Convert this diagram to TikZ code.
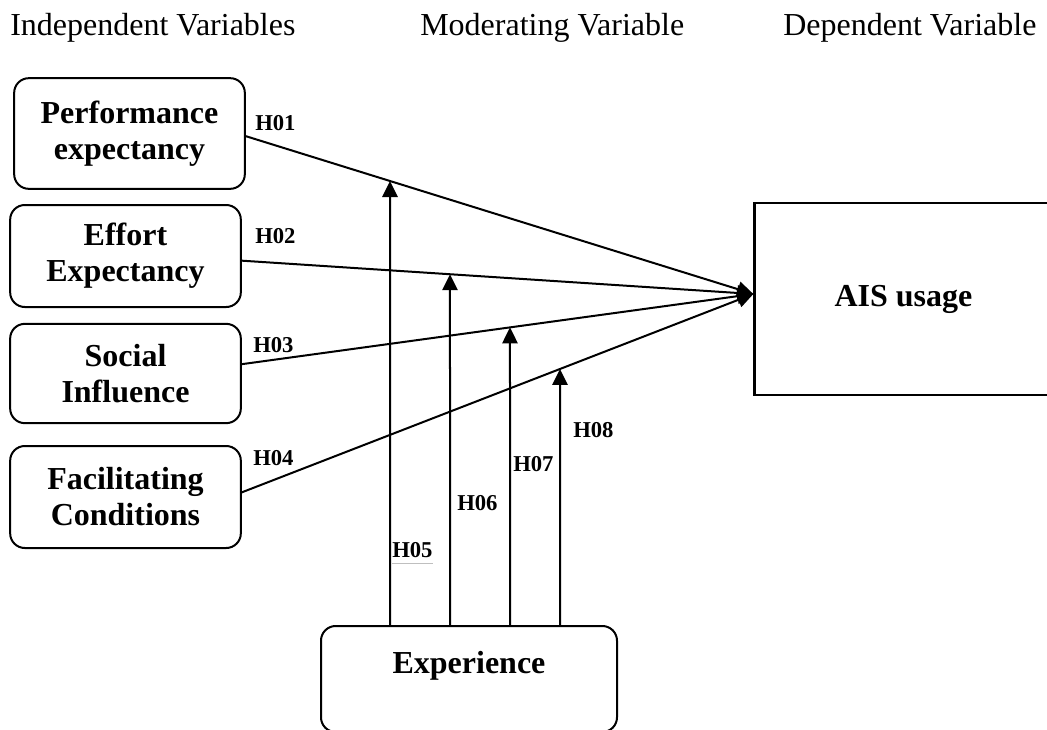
\documentclass[tikz,border=0pt]{standalone}
\usepackage{fontspec}
\setmainfont{Liberation Serif}
\usetikzlibrary{arrows.meta, positioning, calc, intersections}

\begin{document}
\begin{tikzpicture}[
    x=0.75pt, y=-0.75pt,
    varbox/.style={draw, line width=1.5pt, rounded corners=11pt,
                   minimum width=173pt, align=center,
                   font=\fontsize{24}{27}\selectfont\bfseries},
    depbox/.style={draw, line width=2.2pt, minimum width=223pt,
                   minimum height=144pt, font=\fontsize{24}{27}\selectfont\bfseries},
    head/.style={font=\fontsize{24}{28}\selectfont, anchor=base west, inner sep=0pt},
    hyp/.style={font=\fontsize{17}{20}\selectfont\bfseries, anchor=base west, inner sep=0pt},
    arr/.style={-{Triangle[length=12pt, width=11.5pt]}, line width=1.5pt},
  ]
  \useasboundingbox (0,0) rectangle (1047,729);

  % ── HEADINGS ──
  \node[head] (hind) at (10,35) {Independent Variables};
  \node[head] (hmod) at (420,35) {Moderating Variable};
  \node[head] (hdep) at (783,35) {Dependent Variable};

  % ── INDEPENDENT ──
  \node[varbox, minimum height=83pt] (perf) at (129.5,133.5) {Performance\\expectancy};
  \node[varbox, minimum height=76.5pt] (effort) at (125.5,256) {Effort\\Expectancy};
  \node[varbox, minimum height=74.5pt] (social) at (125.5,373.5) {Social\\Influence};
  \node[varbox, minimum height=76.5pt] (facil) at (125.5,497) {Facilitating\\Conditions};

  % ── DEPENDENT ──
  \node[depbox] (ais) at (903.5,299) {AIS usage};
  \coordinate (aisin) at ([yshift=3.75pt]ais.west);

  % ── MODERATOR ──
  \node[varbox, minimum width=222pt, minimum height=79.5pt,
        text height=16pt, text depth=24pt] (exp) at (469,679) {Experience};

  % ── direct paths ──
  \draw[arr, name path=l1] ([yshift=-2pt]perf.east) -- (aisin);
  \draw[arr, name path=l2] ([yshift=-3.5pt]effort.east) -- (aisin);
  \draw[arr, name path=l3] ([yshift=7pt]social.east) -- (aisin);
  \draw[arr, name path=l4] ([yshift=3.5pt]facil.east) -- (aisin);

  \node[hyp] (h01) at (255,130) {H01};
  \node[hyp] (h02) at (255,243) {H02};
  \node[hyp] (h03) at (253,352) {H03};
  \node[hyp] (h04) at (253,465) {H04};

  % ── moderating paths ──
  \coordinate (e1) at ($(exp.north west)+(70,0)$);
  \coordinate (e2) at ($(exp.north west)+(130,0)$);
  \coordinate (e3) at ($(exp.north west)+(190,0)$);
  \coordinate (e4) at ($(exp.north west)+(240,0)$);
  \path[name path=v1] (e1) -- +(0,-600);
  \path[name path=v2] (e2) -- +(0,-600);
  \path[name path=v3] (e3) -- +(0,-600);
  \path[name path=v4] (e4) -- +(0,-600);
  \path[name intersections={of=l1 and v1, by=m1}];
  \path[name intersections={of=l2 and v2, by=m2}];
  \path[name intersections={of=l3 and v3, by=m3}];
  \path[name intersections={of=l4 and v4, by=m4}];
  \draw[arr] (e1) -- (m1);
  \draw[arr] (e2) -- (m2);
  \draw[arr] (e3) -- (m3);
  \draw[arr] (e4) -- (m4);

  \node[hyp] (h05) at (392,557) {H05};
  \draw[gray!50, line width=0.6pt] ([yshift=-4.5pt]h05.south west) -- ([yshift=-4.5pt]h05.south east);
  \node[hyp] (h06) at (457,510) {H06};
  \node[hyp] (h07) at (513,471) {H07};
  \node[hyp] (h08) at (573,437) {H08};
\end{tikzpicture}
\end{document}
